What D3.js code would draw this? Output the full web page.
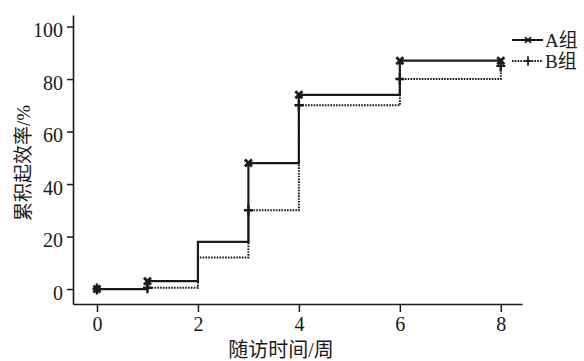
<!DOCTYPE html>
<html><head><meta charset="utf-8">
<script src="https://cdn.jsdelivr.net/npm/d3@7"></script>
<style>
html,body{margin:0;padding:0;background:#fff;}
svg{display:block;}
text{font-family:"Liberation Serif","Noto Sans CJK SC",serif;fill:#1a1a1a;}
</style></head>
<body>
<script>
const weeks = [0, 1, 2, 3, 4, 6, 8];
const groupA = [0, 3, 18, 48, 74, 87, 87];
const groupB = [0, 0.5, 12, 30, 70, 80, 85];
const markerWeeks = [0, 1, 3, 4, 6, 8];
const xTicks = [0, 2, 4, 6, 8];
const yTicks = [0, 20, 40, 60, 80, 100];
const seriesNames = ["A组", "B组"];
const xTitle = "随访时间/周";
const yTitle = "累积起效率/%";

const W = 584, H = 361;
const ink = "#1a1a1a";
const svg = d3.select("body").append("svg").attr("width", W).attr("height", H);

const x = d3.scaleLinear().domain([-0.475, 8.42]).range([73, 522]);
const y = d3.scaleLinear().domain([-5.7, 104.4]).range([304, 15]);

// axes
const gx = svg.append("g").attr("transform", "translate(0,304)")
  .call(d3.axisBottom(x).tickValues(xTicks).tickSize(8).tickSizeOuter(0).tickPadding(5).tickFormat(d3.format("d")));
const gy = svg.append("g").attr("transform", "translate(73,0)")
  .call(d3.axisLeft(y).tickValues(yTicks).tickSize(6).tickSizeOuter(0).tickPadding(4).tickFormat(d3.format("d")));
[gx, gy].forEach(g => {
  g.selectAll("path.domain").attr("stroke", ink).attr("stroke-width", 1.6);
  g.selectAll(".tick line").attr("stroke", ink).attr("stroke-width", 1.5);
  g.selectAll(".tick text").attr("font-size", 20).attr("font-family", "Liberation Serif").attr("fill", ink);
});
gy.selectAll(".tick text").attr("dy", "0.5em");

// titles
svg.append("text").attr("x", 281).attr("y", 357).attr("text-anchor", "middle")
  .attr("font-size", 20).attr("font-family", "Noto Sans CJK SC").text(xTitle);
svg.append("text").attr("transform", "translate(30,163) rotate(-90)").attr("text-anchor", "middle")
  .attr("font-size", 19).attr("font-family", "Noto Sans CJK SC").text(yTitle);

// lines
const line = d3.line().curve(d3.curveStepAfter).x(d => x(d[0])).y(d => y(d[1]));
const dataA = weeks.map((w, i) => [w, groupA[i]]);
const dataB = weeks.map((w, i) => [w, groupB[i]]);

svg.append("path").datum(dataB).attr("d", line).attr("fill", "none")
  .attr("stroke", ink).attr("stroke-width", 2).attr("stroke-dasharray", "1.6,1.2");
svg.append("path").datum(dataA).attr("d", line).attr("fill", "none")
  .attr("stroke", ink).attr("stroke-width", 2.2);

const timesPath = "M-3.5,-3.5L3.5,3.5M3.5,-3.5L-3.5,3.5";
const plusPath = "M0,-5.5L0,5.5M-4.5,0L4.5,0";

const mB = dataB.filter(d => markerWeeks.includes(d[0]));
const mA = dataA.filter(d => markerWeeks.includes(d[0]));
svg.append("g").selectAll("path").data(mB).join("path")
  .attr("transform", d => `translate(${x(d[0])},${y(d[1])})`)
  .attr("d", plusPath).attr("stroke", ink).attr("stroke-width", 2.4).attr("fill", "none");
svg.append("g").selectAll("path").data(mA).join("path")
  .attr("transform", d => `translate(${x(d[0])},${y(d[1])})`)
  .attr("d", timesPath).attr("stroke", ink).attr("stroke-width", 2.8).attr("fill", "none");

// legend
const leg = svg.append("g");
const legRows = [
  {name: seriesNames[0], y: 40, dash: null, mark: timesPath, sw: 2},
  {name: seriesNames[1], y: 61, dash: "1.6,1.2", mark: plusPath, sw: 2}
];
legRows.forEach(r => {
  leg.append("line").attr("x1", 512).attr("x2", 543).attr("y1", r.y).attr("y2", r.y)
    .attr("stroke", ink).attr("stroke-width", r.sw).attr("stroke-dasharray", r.dash);
  leg.append("path").attr("d", r.mark)
    .attr("stroke", ink).attr("stroke-width", 2).attr("fill", "none")
    .attr("transform", `translate(528,${r.y}) scale(0.85)`);
  leg.append("text").attr("x", 545).attr("y", r.y).attr("dy", "0.36em")
    .attr("font-size", 19).text(r.name);
});
</script>
</body></html>
